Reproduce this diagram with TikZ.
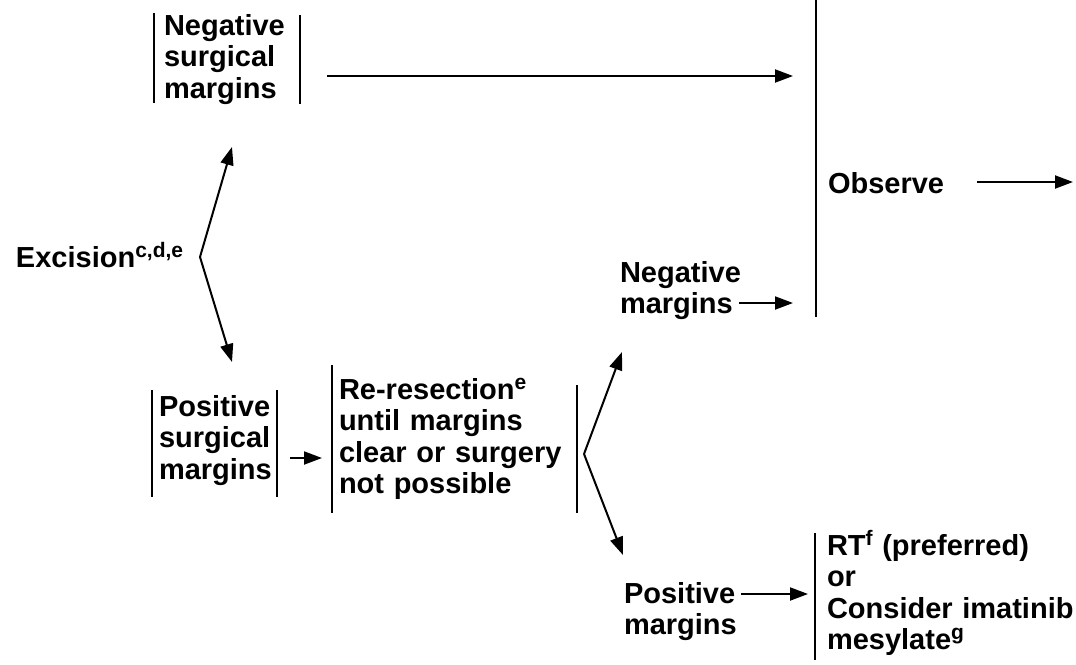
\documentclass[tikz,border=0pt]{standalone}
\usepackage{fontspec}
\setmainfont{Liberation Sans}
\usetikzlibrary{arrows.meta}

\newcommand{\supx}[1]{\raisebox{10pt}{\fontsize{21}{21}\selectfont #1}}

\begin{document}
\begin{tikzpicture}
            [x=1pt,y=-1pt,line width=2pt,
             txt/.style={font=\fontsize{29}{31.5}\selectfont\bfseries,inner sep=0pt,anchor=base west,align=left,text width=#1},
             arr/.style={-{Triangle[length=18pt,width=13pt]}}]
            \useasboundingbox (0,0) rectangle (1076,664);
            \node[txt=140pt] (neg1) at (163,35) {Negative\\surgical\\margins};
            \node[txt=120pt] (obs) at (827,193) {Observe};
            \node[txt=190pt] (exc) at (15,267) {Excision\supx{c,d,e}};
            \node[txt=115pt] (pos1) at (158,416) {Positive\\surgical\\margins};
            \node[txt=240pt] (reres) at (338,399) {Re-resection\supx{e}\\until margins\\clear or surgery\\not possible};
            \node[txt=120pt] (negm) at (619,282) {Negative\\margins};
            \node[txt=120pt] (posm) at (623,603) {Positive\\margins};
            \node[txt=250pt] (rt) at (826,555) {RT\supx{f} (preferred)\\or\\Consider imatinib\\mesylate\supx{g}};
            % the bars
            \draw (154,13) -- (154,103);
            \draw (300,15) -- (300,104);
            \draw (816,0) -- (816,317);
            \draw (152,390) -- (152,497);
            \draw (277,390) -- (277,497);
            \draw (332,365) -- (332,513);
            \draw (577,385) -- (577,513);
            \draw (815,533) -- (815,660);
            % arrow ends
            \coordinate (f1) at (200,257);
            \coordinate (neg1in) at (232,147);
            \coordinate (pos1in) at (232,362);
            \coordinate (neg1out) at (327,76);
            \coordinate (obs1) at (793,76);
            \coordinate (obsout) at (977,182);
            \coordinate (obsend) at (1073,182);
            \coordinate (pos1out) at (290,458);
            \coordinate (reresin) at (322,458);
            \coordinate (f2) at (584,454);
            \coordinate (negmin) at (622,352);
            \coordinate (posmin) at (623,555);
            \coordinate (negmout) at (739,303);
            \coordinate (obs2) at (793,303);
            \coordinate (posmout) at (741,594);
            \coordinate (rtin) at (808,594);
            % arrows
            \draw[arr] (f1) -- (neg1in);
            \draw[arr] (f1) -- (pos1in);
            \draw[arr] (neg1out) -- (obs1);
            \draw[arr] (obsout) -- (obsend);
            \draw[arr] (pos1out) -- (reresin);
            \draw[arr] (f2) -- (negmin);
            \draw[arr] (f2) -- (posmin);
            \draw[arr] (negmout) -- (obs2);
            \draw[arr] (posmout) -- (rtin);
\end{tikzpicture}
\end{document}
